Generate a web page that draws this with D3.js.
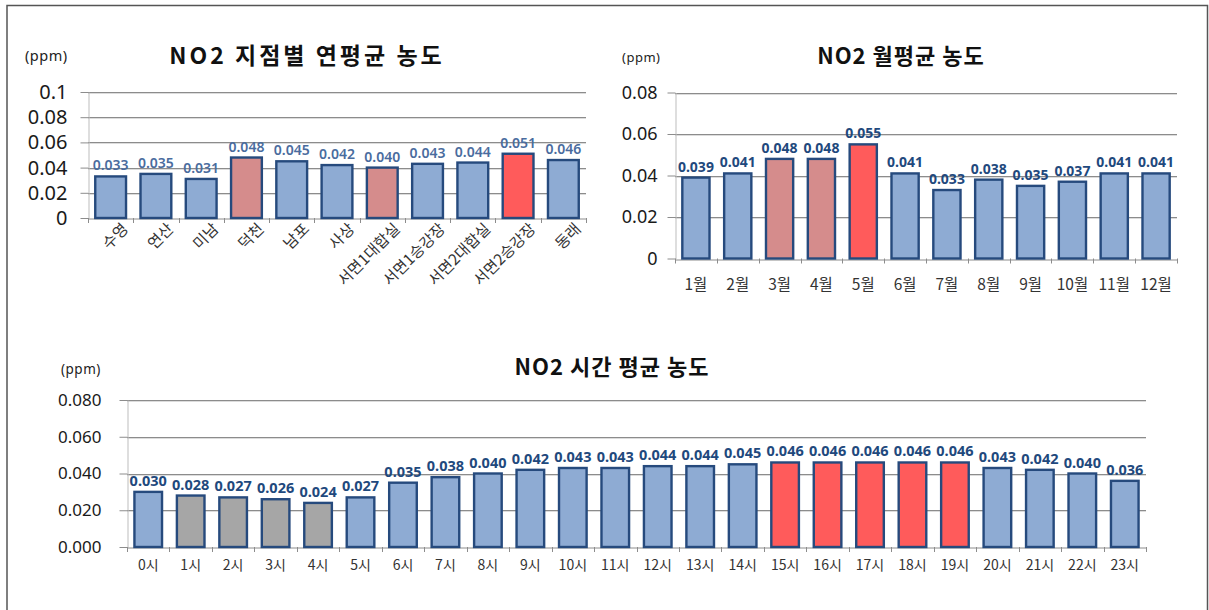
<!DOCTYPE html>
<html>
<head>
<meta charset="utf-8">
<script src="https://cdn.jsdelivr.net/npm/d3@7"></script>
<style>
  body { margin: 0; background: #fff; }
  svg text { font-family: "Noto Sans", "Noto Sans CJK KR", sans-serif; }
  .kr { font-family: "Noto Sans CJK KR", sans-serif; }
</style>
</head>
<body>
<div id="chart"></div>
<script>
// 지점별 연평균
const sites = ["수영", "연산", "미남", "덕천", "남포", "사상", "서면1대합실", "서면1승강장", "서면2대합실", "서면2승강장", "동래"];
const siteValues = [0.033, 0.035, 0.031, 0.048, 0.045, 0.042, 0.040, 0.043, 0.044, 0.051, 0.046];
const siteTicks = [0, 0.02, 0.04, 0.06, 0.08, 0.1];
const siteTickLabels = ["0", "0.02", "0.04", "0.06", "0.08", "0.1"];
const siteMid = ["덕천", "서면1대합실"];
const siteTop = ["서면2승강장"];

// 월평균
const months = ["1월", "2월", "3월", "4월", "5월", "6월", "7월", "8월", "9월", "10월", "11월", "12월"];
const monthValues = [0.039, 0.041, 0.048, 0.048, 0.055, 0.041, 0.033, 0.038, 0.035, 0.037, 0.041, 0.041];
const monthTicks = [0, 0.02, 0.04, 0.06, 0.08];
const monthTickLabels = ["0", "0.02", "0.04", "0.06", "0.08"];
const monthMid = ["3월", "4월"];
const monthTop = ["5월"];

// 시간 평균
const hours = ["0시", "1시", "2시", "3시", "4시", "5시", "6시", "7시", "8시", "9시", "10시", "11시",
               "12시", "13시", "14시", "15시", "16시", "17시", "18시", "19시", "20시", "21시", "22시", "23시"];
const hourValues = [0.030, 0.028, 0.027, 0.026, 0.024, 0.027, 0.035, 0.038, 0.040, 0.042, 0.043, 0.043,
                    0.044, 0.044, 0.045, 0.046, 0.046, 0.046, 0.046, 0.046, 0.043, 0.042, 0.040, 0.036];
const hourTicks = [0, 0.02, 0.04, 0.06, 0.08];
const hourTickLabels = ["0.000", "0.020", "0.040", "0.060", "0.080"];
const hourLow = ["1시", "2시", "3시", "4시"];
const hourTop = ["15시", "16시", "17시", "18시", "19시"];

const COLORS = { base: "#8EABD3", mid: "#D58C8C", top: "#FF5B5B", low: "#A6A6A6" };

const svg = d3.select("#chart").append("svg")
    .attr("width", 1209)
    .attr("height", 610);

// 바깥 테두리
svg.append("path")
    .attr("d", "M7,610 V5.5 H1207.5 V610")
    .attr("fill", "none")
    .attr("stroke", "#555")
    .attr("stroke-width", 1.5);

function drawBarChart(cfg) {
    const g = svg.append("g");

    const x = d3.scaleBand()
        .domain(cfg.categories)
        .range([cfg.left, cfg.right])
        .paddingInner(cfg.padding)
        .paddingOuter(cfg.padding / 2);

    const y = d3.scaleLinear()
        .domain([0, cfg.ticks[cfg.ticks.length - 1]])
        .range([cfg.bottom, cfg.top]);

    // 격자선
    g.selectAll(".grid")
        .data(cfg.ticks.filter(t => t > 0))
        .enter()
        .append("line")
        .attr("x1", cfg.left)
        .attr("x2", cfg.right)
        .attr("y1", d => Math.round(y(d)) + 0.5)
        .attr("y2", d => Math.round(y(d)) + 0.5)
        .attr("stroke", "#8c8c8c");
    g.selectAll(".grid2")
        .data(cfg.ticks.filter(t => t > 0))
        .enter()
        .append("line")
        .attr("x1", cfg.left)
        .attr("x2", cfg.right)
        .attr("y1", d => Math.round(y(d)) + 1.5)
        .attr("y2", d => Math.round(y(d)) + 1.5)
        .attr("stroke", "#dcdcdc");

    // y 축
    const yAxis = g.append("g")
        .attr("transform", `translate(${cfg.left + 0.5},0)`)
        .call(d3.axisLeft(y)
            .tickValues(cfg.ticks)
            .tickFormat((d, i) => cfg.tickLabels[i])
            .tickSize(8)
            .tickSizeOuter(0)
            .tickPadding(cfg.yPad));
    yAxis.select(".domain").attr("stroke", "#bdbdbd");
    yAxis.selectAll(".tick line").attr("stroke", "#8c8c8c");
    yAxis.selectAll(".tick text")
        .attr("fill", "#1a1a1a")
        .style("font-size", cfg.yFont + "px");

    // x 축 (밴드 경계에 눈금)
    const xAxis = g.append("g")
        .attr("transform", `translate(0,${Math.round(cfg.bottom) + 0.5})`)
        .call(d3.axisBottom(x).tickSize(0).tickSizeOuter(0).tickPadding(cfg.xPad));
    xAxis.select(".domain").attr("stroke", "#8c8c8c");
    xAxis.selectAll(".tick text")
        .attr("class", "kr")
        .attr("fill", "#333")
        .style("font-size", cfg.xFont + "px");

    const half = x.step() * cfg.padding / 2;
    const bounds = cfg.categories.map(c => x(c) - half).concat([cfg.right]);
    g.selectAll(".xtick")
        .data(bounds)
        .enter()
        .append("line")
        .attr("x1", d => Math.round(d) + 0.5)
        .attr("x2", d => Math.round(d) + 0.5)
        .attr("y1", cfg.bottom)
        .attr("y2", cfg.bottom + 5)
        .attr("stroke", "#8c8c8c");

    if (cfg.rotate) {
        xAxis.selectAll(".tick text")
            .attr("text-anchor", "end")
            .attr("dy", "0.35em")
            .attr("transform", "translate(9,2) rotate(-45)");
    }

    // 막대
    const data = cfg.categories.map((c, i) => ({ name: c, value: cfg.values[i] }));
    g.selectAll(".bar")
        .data(data)
        .enter()
        .append("rect")
        .attr("x", d => x(d.name))
        .attr("y", d => y(d.value))
        .attr("width", x.bandwidth())
        .attr("height", d => cfg.bottom - y(d.value))
        .attr("fill", d => cfg.colorOf(d.name))
        .attr("stroke", "#264A7D")
        .attr("stroke-width", 2.4);

    // 값 라벨
    g.selectAll(".label")
        .data(data)
        .enter()
        .append("text")
        .attr("x", d => x(d.name) + x.bandwidth() / 2)
        .attr("y", d => y(d.value) - 6)
        .attr("text-anchor", "middle")
        .attr("fill", cfg.labelColor)
        .style("font-size", cfg.labelFont + "px")
        .style("font-weight", cfg.labelWeight)
        .text(d => d.value.toFixed(3));

    // 제목
    svg.append("text")
        .attr("class", "kr")
        .attr("x", cfg.titleX)
        .attr("y", cfg.titleY)
        .attr("text-anchor", "middle")
        .attr("fill", "#111")
        .style("font-size", cfg.titleFont + "px")
        .style("font-weight", "bold")
        .style("letter-spacing", cfg.titleSpacing + "px")
        .text(cfg.title);

    svg.append("text")
        .attr("x", cfg.unitX)
        .attr("y", cfg.unitY)
        .attr("fill", "#222")
        .style("font-size", cfg.unitFont + "px")
        .style("letter-spacing", "0.5px")
        .text("(ppm)");
}

drawBarChart({
    categories: sites, values: siteValues, ticks: siteTicks, tickLabels: siteTickLabels,
    left: 88, right: 586, top: 92, bottom: 218, padding: 0.32,
    yFont: 20, yPad: 13, xFont: 15.5, xPad: 8, rotate: true,
    labelFont: 14, labelWeight: 600, labelColor: "#4A6C9E",
    colorOf: n => siteTop.includes(n) ? COLORS.top : siteMid.includes(n) ? COLORS.mid : COLORS.base,
    title: "NO2 지점별 연평균 농도", titleX: 307, titleY: 64, titleFont: 23, titleSpacing: 3,
    unitX: 25, unitY: 61, unitFont: 14.5
});

drawBarChart({
    categories: months, values: monthValues, ticks: monthTicks, tickLabels: monthTickLabels,
    left: 675, right: 1177, top: 92.5, bottom: 258.5, padding: 0.35,
    yFont: 18, yPad: 10, xFont: 15.5, xPad: 19, rotate: false,
    labelFont: 14, labelWeight: "bold", labelColor: "#1F497D",
    colorOf: n => monthTop.includes(n) ? COLORS.top : monthMid.includes(n) ? COLORS.mid : COLORS.base,
    title: "NO2 월평균 농도", titleX: 901, titleY: 64, titleFont: 22, titleSpacing: 1,
    unitX: 622, unitY: 62, unitFont: 13
});

drawBarChart({
    categories: hours, values: hourValues, ticks: hourTicks, tickLabels: hourTickLabels,
    left: 127, right: 1146, top: 400, bottom: 547, padding: 0.35,
    yFont: 17, yPad: 18, xFont: 14, xPad: 13, rotate: false,
    labelFont: 14.5, labelWeight: "bold", labelColor: "#1F497D",
    colorOf: n => hourTop.includes(n) ? COLORS.top : hourLow.includes(n) ? COLORS.low : COLORS.base,
    title: "NO2 시간 평균 농도", titleX: 612, titleY: 375, titleFont: 22, titleSpacing: 1,
    unitX: 61, unitY: 374, unitFont: 13.5
});
</script>
</body>
</html>
